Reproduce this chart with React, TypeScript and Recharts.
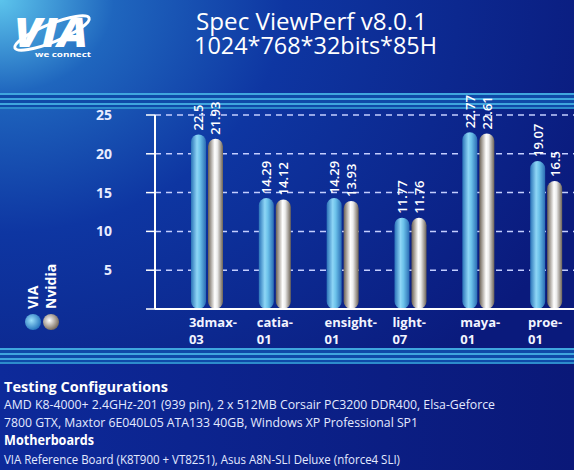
import { BarChart, Bar, XAxis, YAxis, CartesianGrid, LabelList } from 'recharts';

const categories = ['3dmax-03', 'catia-01', 'ensight-01', 'light-07', 'maya-01', 'proe-01'];
const viaScores = [22.5, 14.29, 14.29, 11.77, 22.77, 19.07];
const nvidiaScores = [21.93, 14.12, 13.93, 11.76, 22.61, 16.5];
const yTicks = [0, 5, 10, 15, 20, 25];

const titleLines = ['Spec ViewPerf v8.0.1', '1024*768*32bits*85H'];
const configLines = [
  'AMD K8-4000+ 2.4GHz-201 (939 pin), 2 x 512MB Corsair PC3200 DDR400, Elsa-Geforce',
  '7800 GTX, Maxtor 6E040L05 ATA133 40GB, Windows XP Professional SP1',
];
const boardLine = 'VIA Reference Board (K8T900 + VT8251), Asus A8N-SLI Deluxe (nforce4 SLI)';

const data = categories.map((c, i) => ({ name: c, via: viaScores[i], nvidia: nvidiaScores[i] }));

const font = '"Open Sans", "Noto Sans", sans-serif';

function YTick(props: any) {
  const { y, payload } = props;
  if (payload.value === 0) return null;
  return (
    <text x={112} y={y + 5} textAnchor="end" fill="#e8ecff" fontSize={14} fontWeight={700} fontFamily={font}>
      {payload.value}
    </text>
  );
}

function XTick(props: any) {
  const { x, y, payload } = props;
  const [a, b] = payload.value.split('-');
  return (
    <g>
      <text x={x - 18} y={y + 10} fill="#f2f4ff" fontSize={13} fontWeight={700} fontFamily={font}>
        {a + '-'}
      </text>
      <text x={x - 18} y={y + 27} fill="#f2f4ff" fontSize={13} fontWeight={700} fontFamily={font}>
        {b}
      </text>
    </g>
  );
}

function ValueLabel(props: any) {
  const { x, y, width, value } = props;
  const cx = x + width / 2 + 5;
  const cy = y - 4;
  return (
    <text
      x={cx}
      y={cy}
      transform={`rotate(-90 ${cx} ${cy})`}
      fill="#ffffff"
      fontSize={13}
      fontWeight={600}
      fontFamily={font}
    >
      {String(value)}
    </text>
  );
}

function Stripes({ y }: { y: number }) {
  return (
    <g>
      <rect x={0} y={y} width={574} height={16} fill="#0f4aa8" />
      <rect x={0} y={y} width={574} height={2} fill="#3fa6de" />
      <rect x={0} y={y + 5} width={574} height={2} fill="#3fa6de" />
      <rect x={0} y={y + 10} width={574} height={2} fill="#3fa6de" />
      <rect x={0} y={y + 14} width={574} height={2} fill="#2d8ccc" />
    </g>
  );
}

export default function App() {
  return (
    <div style={{ position: 'absolute', left: 0, top: 0, width: 574, height: 470, overflow: 'hidden' }}>
      <svg width={574} height={470} style={{ position: 'absolute', left: 0, top: 0 }}>
        <defs>
          <radialGradient id="bg" cx="0" cy="0" r="1.1" gradientUnits="objectBoundingBox">
            <stop offset="0%" stopColor="#5cc4ec" />
            <stop offset="18%" stopColor="#1f66be" />
            <stop offset="45%" stopColor="#0e36a2" />
            <stop offset="100%" stopColor="#0a1a7c" />
          </radialGradient>
          <linearGradient id="bottomBg" x1="0" y1="0" x2="1" y2="0">
            <stop offset="0%" stopColor="#0d2a9a" />
            <stop offset="100%" stopColor="#0a1878" />
          </linearGradient>
        </defs>
        <rect x={0} y={0} width={574} height={470} fill="url(#bg)" />
        <rect x={0} y={364} width={574} height={106} fill="url(#bottomBg)" />
        <Stripes y={93} />
        <Stripes y={348} />

        {/* logo */}
        <ellipse cx={52} cy={33} rx={40} ry={9} fill="none" stroke="#ffffff" strokeWidth={3} transform="rotate(-22 52 33)" />
        <text x={14} y={47} fill="#ffffff" fontSize={40} fontWeight={900} fontStyle="italic" fontFamily={font} textLength={74} lengthAdjust="spacingAndGlyphs">
          VIA
        </text>
        <text x={35} y={57} fill="#ffffff" fontSize={7} fontWeight={700} fontFamily={font} textLength={56} lengthAdjust="spacingAndGlyphs">
          we connect
        </text>

        {/* title */}
        <text x={196} y={30} fill="#ffffff" fontSize={24} fontFamily={font} textLength={231} lengthAdjust="spacingAndGlyphs">
          {titleLines[0]}
        </text>
        <text x={194} y={54} fill="#ffffff" fontSize={24} fontFamily={font} textLength={243} lengthAdjust="spacingAndGlyphs">
          {titleLines[1]}
        </text>

        {/* bottom notes */}
        <text x={4} y={392} fill="#ffffff" fontSize={14} fontWeight={700} fontFamily={font} textLength={164} lengthAdjust="spacingAndGlyphs">
          Testing Configurations
        </text>
        <text x={4} y={409} fill="#e4eaff" fontSize={13} fontFamily={font} textLength={491} lengthAdjust="spacingAndGlyphs">
          {configLines[0]}
        </text>
        <text x={4} y={427} fill="#e4eaff" fontSize={13} fontFamily={font} textLength={414} lengthAdjust="spacingAndGlyphs">
          {configLines[1]}
        </text>
        <text x={4} y={445} fill="#ffffff" fontSize={14} fontWeight={700} fontFamily={font} textLength={90} lengthAdjust="spacingAndGlyphs">
          Motherboards
        </text>
        <text x={4} y={464} fill="#e4eaff" fontSize={13} fontFamily={font} textLength={396} lengthAdjust="spacingAndGlyphs">
          {boardLine}
        </text>
      </svg>

      <div style={{ position: 'absolute', left: 0, top: 0 }}>
        <BarChart
          width={580}
          height={470}
          data={data}
          margin={{ top: 115, right: 0, bottom: 121, left: 115 }}
          barSize={15}
          barGap={2}
        >
          <defs>
            <linearGradient id="viaFill" x1="0" y1="0" x2="1" y2="0">
              <stop offset="0%" stopColor="#2a72b8" />
              <stop offset="40%" stopColor="#8ed6f6" />
              <stop offset="60%" stopColor="#6cc2ea" />
              <stop offset="100%" stopColor="#2a6cb4" />
            </linearGradient>
            <linearGradient id="nvFill" x1="0" y1="0" x2="1" y2="0">
              <stop offset="0%" stopColor="#6a6054" />
              <stop offset="45%" stopColor="#ffffff" />
              <stop offset="62%" stopColor="#ececec" />
              <stop offset="100%" stopColor="#6c6256" />
            </linearGradient>
            <radialGradient id="viaDot" cx="0.4" cy="0.4" r="0.6">
              <stop offset="0%" stopColor="#9be0fa" />
              <stop offset="100%" stopColor="#2a78c0" />
            </radialGradient>
            <radialGradient id="nvDot" cx="0.4" cy="0.4" r="0.6">
              <stop offset="0%" stopColor="#ffffff" />
              <stop offset="100%" stopColor="#7a6e60" />
            </radialGradient>
          </defs>
          <CartesianGrid horizontal vertical={false} stroke="#c4ceff" strokeDasharray="6 5" strokeWidth={1.5} />
          <XAxis
            dataKey="name"
            padding={{ left: 18, right: 0 }}
            axisLine={{ stroke: '#ffffff', strokeWidth: 2 }}
            tickLine={false}
            tick={<XTick />}
            height={40}
            interval={0}
          />
          <YAxis
            domain={[0, 25]}
            ticks={yTicks}
            width={40}
            axisLine={{ stroke: '#ffffff', strokeWidth: 2 }}
            tickLine={{ stroke: '#ffffff', strokeWidth: 1.5 }}
            tickSize={9}
            tick={<YTick />}
          />
          <Bar dataKey="via" fill="url(#viaFill)" radius={[8, 8, 8, 8]} isAnimationActive={false}>
            <LabelList dataKey="via" content={<ValueLabel />} />
          </Bar>
          <Bar dataKey="nvidia" fill="url(#nvFill)" radius={[8, 8, 8, 8]} isAnimationActive={false}>
            <LabelList dataKey="nvidia" content={<ValueLabel />} />
          </Bar>
          {/* legend */}
          <circle cx={33} cy={322} r={8} fill="url(#viaDot)" />
          <circle cx={51} cy={322} r={8} fill="url(#nvDot)" />
          <text x={38} y={309} transform="rotate(-90 38 309)" fill="#ffffff" fontSize={14} fontWeight={700} fontFamily={font}>
            VIA
          </text>
          <text x={56} y={309} transform="rotate(-90 56 309)" fill="#ffffff" fontSize={14} fontWeight={700} fontFamily={font}>
            Nvidia
          </text>
        </BarChart>
      </div>
    </div>
  );
}
